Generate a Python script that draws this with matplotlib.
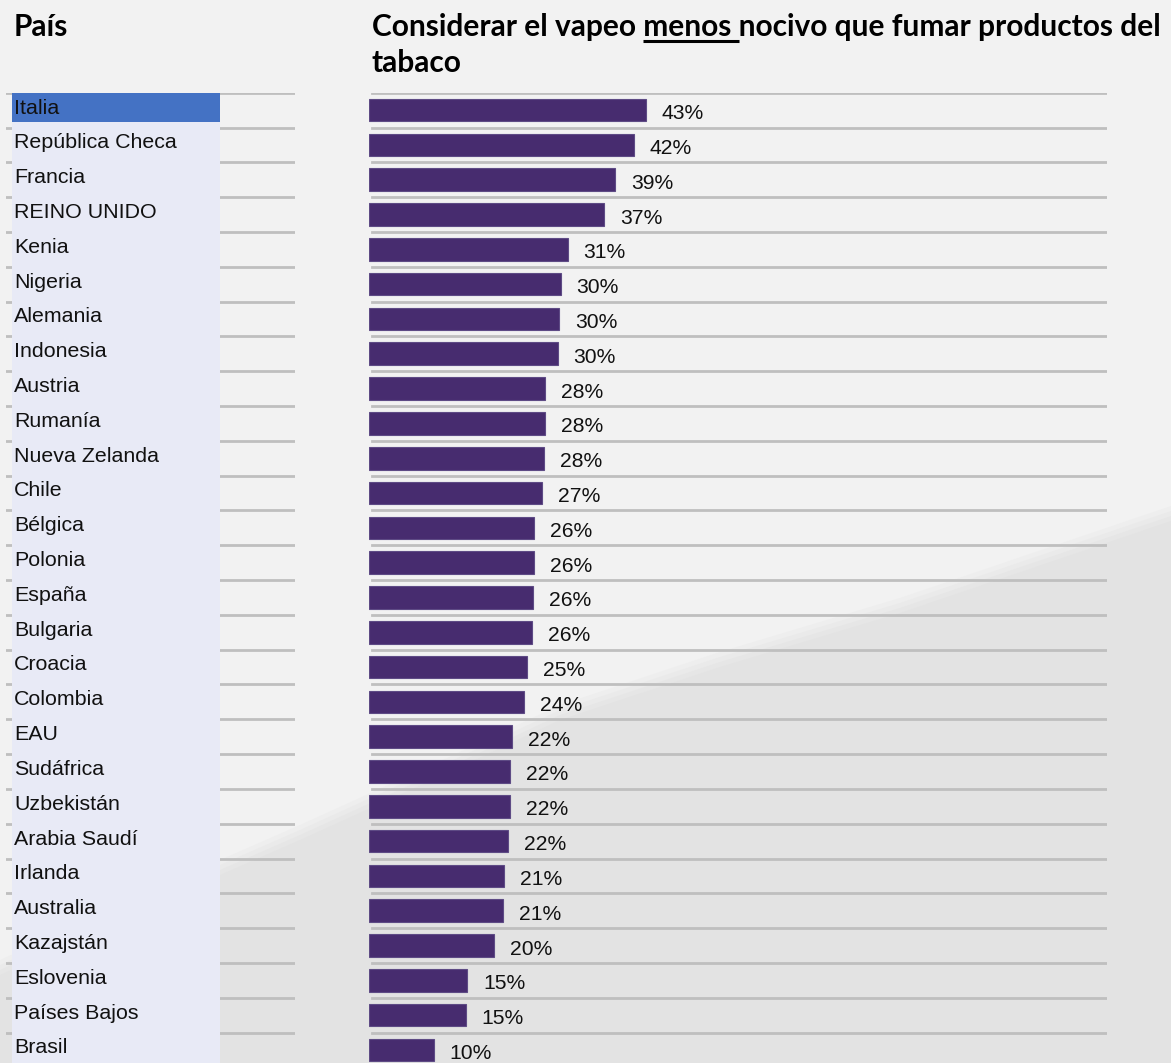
import matplotlib
matplotlib.use("Agg")
import matplotlib.pyplot as plt
from matplotlib.patches import Rectangle, Polygon

# data (bar lengths estimated, labels as printed)
countries = [
    "Italia", "República Checa", "Francia", "REINO UNIDO", "Kenia", "Nigeria",
    "Alemania", "Indonesia", "Austria", "Rumanía", "Nueva Zelanda", "Chile",
    "Bélgica", "Polonia", "España", "Bulgaria", "Croacia", "Colombia", "EAU",
    "Sudáfrica", "Uzbekistán", "Arabia Saudí", "Irlanda", "Australia",
    "Kazajstán", "Eslovenia", "Países Bajos", "Brasil",
]
values = [
    43.5, 41.6, 38.7, 36.9, 31.2, 30.1, 29.9, 29.6, 27.7, 27.7, 27.5, 27.2,
    25.9, 25.9, 25.7, 25.6, 24.8, 24.4, 22.4, 22.1, 22.1, 21.8, 21.2, 21.1,
    19.6, 15.4, 15.2, 10.1,
]
labels = [43, 42, 39, 37, 31, 30, 30, 30, 28, 28, 28, 27, 26, 26, 26, 26,
          25, 24, 22, 22, 22, 22, 21, 21, 20, 15, 15, 10]

col_header = "País"
title_pre = "Considerar el vapeo "
title_ul = "menos "
title_post = "nocivo que fumar productos del"
title_line2 = "tabaco"

W, H = 1171, 1063
BAR_COLOR = "#472c6f"
LINE_COLOR = "#bfbfbf"
LABEL_FONT = "Liberation Sans"
TITLE_FONT = "Lato"

n = len(countries)
top, pitch = 92.7, 34.81
bar_x0, bar_x1 = 369.3, 1107
px_per_pct = 6.36


def fx(px):
    return px / W


def fy(px):
    return 1 - px / H


fig = plt.figure(figsize=(W / 100, H / 100), dpi=100)

# background with the soft curved shade in the lower right
bg = fig.add_axes([0, 0, 1, 1])
bg.set_xlim(0, W)
bg.set_ylim(H, 0)
bg.axis("off")
bg.add_patch(Rectangle((0, 0), W, H, color="#f2f2f2", zorder=0))
edge = [(0, 960), (220, 860), (300, 825), (430, 766), (560, 705),
        (720, 652), (900, 598), (W, 506)]
shades = ["#eeeeee", "#eaeaea", "#e6e6e6", "#e3e3e3"]
for k, c in enumerate(shades):
    d = k * 5
    pts = [(x, y + d) for x, y in edge] + [(W, H), (0, H)]
    bg.add_patch(Polygon(pts, color=c, lw=0, zorder=1))

ax_bottom = fy(top + n * pitch)
ax_height = n * pitch / H

# left column: country names
lx = fig.add_axes([fx(6), ax_bottom, fx(295 - 6), ax_height])
lx.set_xlim(6, 295)
lx.set_ylim(n - 0.5, -0.5)
lx.axis("off")
for i in range(n):
    lx.plot([6, 294], [i - 0.5, i - 0.5], color=LINE_COLOR, lw=2, zorder=1)
hl_top = -0.5 - 5.7 / pitch
hl_bot = -0.5 + (122 - top) / pitch
lx.add_patch(Rectangle((12, hl_bot), 208, n + 1, color="#e8eaf6", lw=0, zorder=2))
lx.add_patch(Rectangle((12, hl_top), 208, hl_bot - hl_top, color="#4472c4",
                       lw=0, zorder=3))
for i, name in enumerate(countries):
    lx.text(14, i - 0.06, name, ha="left", va="center", fontsize=15.4,
            family=LABEL_FONT, color="#111111", zorder=4)

# bars
ax = fig.add_axes([fx(bar_x0), ax_bottom, fx(bar_x1 - bar_x0), ax_height])
ax.set_xlim(0, (bar_x1 - bar_x0) / px_per_pct)
ax.set_ylim(n - 0.5, -0.5)
ax.axis("off")
x_line0 = 3 / px_per_pct
for i in range(n):
    ax.plot([x_line0, ax.get_xlim()[1]], [i - 0.5, i - 0.5],
            color=LINE_COLOR, lw=2, zorder=1)
ax.barh(range(n), values, height=0.65, color=BAR_COLOR,
        edgecolor="#5e4b85", linewidth=0.8, zorder=2)
for i, (v, lab) in enumerate(zip(values, labels)):
    ax.text(v + 2.5, i + 0.1, f"{lab}%", ha="left", va="center",
            fontsize=15.2, family=LABEL_FONT, color="#111111")

# headers
t_kw = dict(fontsize=21.5, fontweight="bold", family=TITLE_FONT,
            va="baseline", ha="left", color="black")
fig.text(fx(14), fy(36), col_header, **t_kw)
fig.text(fx(372), fy(36), title_pre + title_ul + title_post, **t_kw)
fig.text(fx(372), fy(72), title_line2, **t_kw)

# underline under "menos "
fig.canvas.draw()
r = fig.canvas.get_renderer()
w_pre = fig.text(0, 0, title_pre, alpha=0, **t_kw).get_window_extent(r).width
w_ul = fig.text(0, 0, title_pre + title_ul, alpha=0, **t_kw).get_window_extent(r).width
bg.plot([372 + w_pre, 372 + w_ul], [40.5, 40.5], color="black", lw=2.2,
        solid_capstyle="butt", zorder=5)

fig.savefig("out.png", dpi=100)
